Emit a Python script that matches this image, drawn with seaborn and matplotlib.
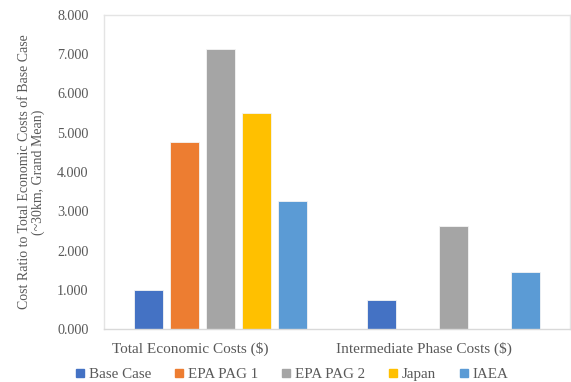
import matplotlib
matplotlib.use("Agg")
import matplotlib.pyplot as plt
import matplotlib.transforms as mtransforms
import seaborn as sns
import pandas as pd
from matplotlib.lines import Line2D

categories = ["Total Economic Costs ($)", "Intermediate Phase Costs ($)"]
scenarios = ["Base Case", "EPA PAG 1", "EPA PAG 2", "Japan", "IAEA"]
base_case = [1.00, 0.74]
epa_pag1 = [4.76, 0.0]
epa_pag2 = [7.13, 2.62]
japan = [5.50, 0.0]
iaea = [3.26, 1.44]
yticks = [0, 1, 2, 3, 4, 5, 6, 7, 8]

colors = ["#4472C4", "#ED7D31", "#A5A5A5", "#FFC000", "#5B9BD5"]

series = [base_case, epa_pag1, epa_pag2, japan, iaea]
rows = []
for name, vals in zip(scenarios, series):
    for cat, v in zip(categories, vals):
        rows.append({"Category": cat, "Scenario": name, "Ratio": v})
df = pd.DataFrame(rows)

sns.set_theme(style="white")
plt.rcParams["font.family"] = ["Liberation Serif", "DejaVu Serif"]

fig = plt.figure(figsize=(5.71, 3.82), dpi=100)
ax = fig.add_axes([104 / 571, 1 - 329 / 382, 466 / 571, 314 / 382])

sns.barplot(data=df, x="Category", y="Ratio", hue="Scenario",
            hue_order=scenarios, order=categories, palette=colors,
            saturation=1, width=0.77, gap=0.2, edgecolor="#F4F4F4",
            linewidth=0.6, errorbar=None, legend=False, ax=ax)

ax.set_ylim(0, 8)
ax.set_yticks(yticks)
ax.set_yticklabels([f"{t:.3f}" for t in yticks])
ax.set_xlim(-0.5, 1.5)
ax.tick_params(axis="both", length=0, colors="#595959", labelsize=10.2)
ax.tick_params(axis="y", pad=11)
ax.tick_params(axis="x", pad=9)

# category labels sit a little left of their bar groups
shift = mtransforms.ScaledTranslation(-30 / 100, 0, fig.dpi_scale_trans)
for lab in ax.get_xticklabels():
    lab.set_fontsize(11)
    lab.set_transform(lab.get_transform() + shift)

for side in ["top", "left", "right"]:
    ax.spines[side].set_color("#E4E4E4")
    ax.spines[side].set_linewidth(1.0)
ax.spines["bottom"].set_color("#D9D9D9")
ax.spines["bottom"].set_linewidth(1.0)

ax.set_xlabel("")
ax.set_ylabel("Cost Ratio to Total Economic Costs of Base Case\n(~30km, Grand Mean)",
              fontsize=10, color="#595959", labelpad=9, linespacing=1.05)

handles = [Line2D([0], [0], marker="s", linestyle="", markersize=6,
                  markerfacecolor=c, markeredgecolor=c) for c in colors]
fig.legend(handles, scenarios, loc="center", bbox_to_anchor=(291 / 571, 1 - 374 / 382),
           ncol=5, frameon=False, fontsize=10.8, handletextpad=0.15,
           columnspacing=1.4, labelcolor="#595959", handlelength=0.9)

fig.savefig("out.png", dpi=100)
